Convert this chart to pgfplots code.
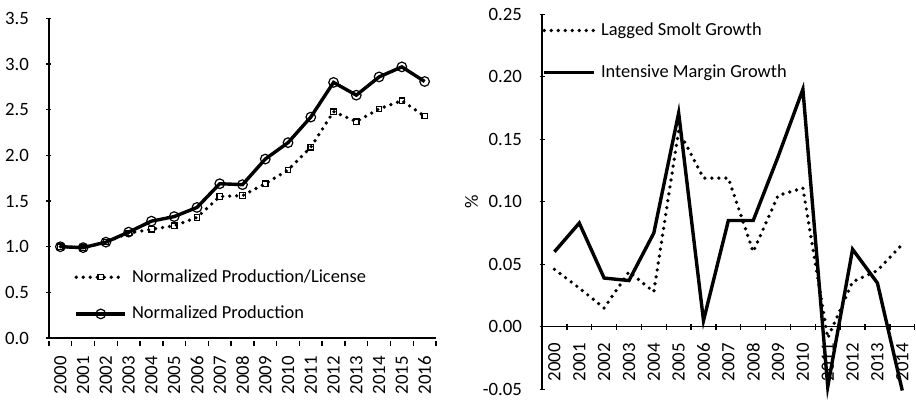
\documentclass[border=0pt]{standalone}
\usepackage{fontspec}
\setmainfont{Carlito}
\usepackage{pgfplots}
\pgfplotsset{compat=1.18}

% x index: 0 = 2000
\pgfplotstableread{
x  prodlic prod
0  1.00 1.00
1  0.99 0.99
2  1.05 1.05
3  1.15 1.16
4  1.19 1.28
5  1.23 1.33
6  1.32 1.43
7  1.55 1.69
8  1.56 1.68
9  1.69 1.96
10 1.84 2.14
11 2.09 2.42
12 2.48 2.80
13 2.37 2.66
14 2.51 2.86
15 2.60 2.97
16 2.43 2.81
}\leftdata

\pgfplotstableread{
x  smolt   intens
0  0.046   0.060
1  0.031   0.083
2  0.015   0.039
3  0.044   0.037
4  0.028   0.075
5  0.157   0.171
6  0.119   0.005
7  0.119   0.085
8  0.060   0.085
9  0.105   0.136
10 0.111   0.190
11 -0.009  -0.048
12 0.036   0.062
13 0.045   0.035
14 0.066   -0.051
}\rightdata

\pgfplotsset{
  chart/.style={
    scale only axis,
    tick align=inside,
    major tick length=2.5pt, minor tick length=2.8pt,
    tick style={black, line width=0.7pt},
    major x tick style={draw=none},
    tick label style={font=\fontsize{9.4}{11}\selectfont, black},
    yticklabel style={xshift=-5.3pt},
    legend cell align=left,
  },
  dotline/.style={black, line width=1.85pt, line cap=round, dash pattern=on 0pt off 3.5pt},
  solidline/.style={black, line width=1.7pt, line join=miter},
}

\begin{document}
\begin{tikzpicture}
\path[use as bounding box] (0,0) rectangle (458pt,200.5pt);

\begin{axis}[chart,
  at={(24.5pt,31.5pt)}, anchor=south west,
  width=193.5pt, height=159.75pt,
  xmin=-0.5, xmax=16.5, ymin=0, ymax=3.5,
  axis x line=bottom, axis y line=left,
  axis line style={-, line width=0.7pt, black},
  xtick={0,...,16},
  xticklabels={2000,2001,2002,2003,2004,2005,2006,2007,2008,2009,2010,2011,2012,2013,2014,2015,2016},
  minor xtick={-0.5,0.5,...,16.5},
  minor x tick style={yshift=-2.8pt},
  xticklabel style={yshift=-4.3pt, rotate=90, anchor=east},
  ytick={0,0.5,...,3.5},
  yticklabels={0.0,0.5,1.0,1.5,2.0,2.5,3.0,3.5},
  legend style={draw=none, fill=none, inner sep=0pt, row sep=5.5pt,
    font=\fontsize{9.2}{11}\selectfont,
    at={(axis description cs:0.0646,0.232)}, anchor=north west,
    nodes={inner sep=2.5pt}},
  legend image code/.code={\draw[mark repeat=2, mark phase=2, #1] plot coordinates {(0pt,0pt) (12.25pt,0pt) (24.5pt,0pt)};},
]
\addplot[dotline, mark=square, mark size=1.35pt, mark options={solid, line width=0.6pt, fill=none}]
  table[x=x, y=prodlic] {\leftdata};
\addlegendentry{Normalized Production/License}
\addplot[solidline, mark=o, mark size=2.4pt, mark options={solid, line width=0.6pt, fill=none}]
  table[x=x, y=prod] {\leftdata};
\addlegendentry{Normalized Production}
\end{axis}

\begin{axis}[chart,
  at={(271pt,5.85pt)}, anchor=south west,
  width=186.35pt, height=187.5pt,
  xmin=-0.5, xmax=14.5, ymin=-0.05, ymax=0.25,
  axis x line=middle, axis y line=left,
  axis line style={-, line width=0.7pt, black},
  hide obscured x ticks=false, hide obscured y ticks=false,
  clip=false,
  xtick={0,...,14},
  xticklabels={2000,2001,2002,2003,2004,2005,2006,2007,2008,2009,2010,2011,2012,2013,2014},
  minor xtick={-0.5,0.5,...,14.5},
  xticklabel style={yshift=-3.5pt, rotate=90, anchor=east},
  ytick={-0.05,0,0.05,0.10,0.15,0.20,0.25},
  yticklabels={-0.05,0.00,0.05,0.10,0.15,0.20,0.25},
  ylabel={\%},
  every axis y label/.style={at={(axis description cs:-0.189,0.5)}, rotate=90, anchor=center,
    font=\fontsize{9.4}{11}\selectfont},
  legend style={draw=none, fill=none, inner sep=0pt, row sep=8pt,
    font=\fontsize{9.2}{11}\selectfont,
    at={(axis description cs:0,0.992)}, anchor=north west,
    nodes={inner sep=2.5pt}},
  legend image code/.code={\draw[#1] (0pt,0pt) -- (25pt,0pt);},
]
\addplot[dotline] table[x=x, y=smolt] {\rightdata};
\addlegendentry{Lagged Smolt Growth}
\addplot[solidline] table[x=x, y=intens] {\rightdata};
\addlegendentry{Intensive Margin Growth}
\end{axis}
\end{tikzpicture}
\end{document}
